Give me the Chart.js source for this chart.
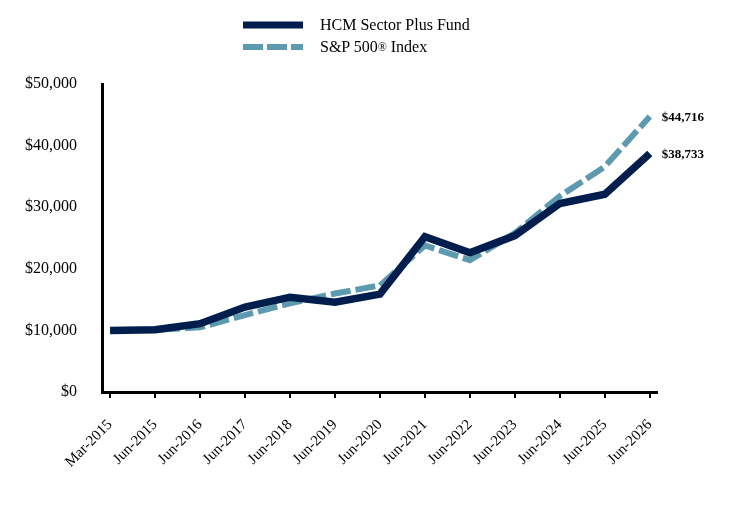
<!DOCTYPE html>
<html>
<head>
<meta charset="utf-8">
<script src="https://cdn.jsdelivr.net/npm/chart.js@4.4.1/dist/chart.umd.min.js"></script>
<style>
  body { margin: 0; background: #fff; font-family: "Liberation Serif", "Times New Roman", serif; }
  #wrap { position: relative; width: 744px; height: 516px; }
  #legend { position: absolute; left: 243px; top: 14px; font-size: 16px; color: #000; }
  #legend .row { height: 22px; display: flex; align-items: center; }
  #legend svg { margin-right: 17px; }
  sup { font-size: 12px; vertical-align: 6px; line-height: 0; }
</style>
</head>
<body>
<div id="wrap">
  <canvas id="myChart" width="744" height="516"></canvas>
  <div id="legend">
    <div class="row"><svg width="60" height="10"><line x1="0" y1="5" x2="60" y2="5" stroke="#001E4D" stroke-width="7"/></svg>HCM Sector Plus Fund</div>
    <div class="row"><svg width="60" height="10"><line x1="0" y1="5" x2="60" y2="5" stroke="#5D9AB0" stroke-width="6" stroke-dasharray="20,4"/></svg>S&amp;P 500<sup>®</sup>&nbsp;Index</div>
  </div>
</div>
<script>
var labels = ['Mar-2015', 'Jun-2015', 'Jun-2016', 'Jun-2017', 'Jun-2018', 'Jun-2019', 'Jun-2020',
              'Jun-2021', 'Jun-2022', 'Jun-2023', 'Jun-2024', 'Jun-2025', 'Jun-2026']
var fund = [10000, 10100, 11100, 13800, 15400, 14600, 15900, 25200, 22600, 25400, 30600, 32100, 38733]
var spx = [10000, 10100, 10500, 12500, 14400, 16000, 17300, 23800, 21400, 25800, 31800, 36600, 44716]
var endLabels = ['$44,716', '$38,733']

function points(arr) {
    return arr.map(function(v, i) { return {x: i, y: v} })
}

var serif = '"Liberation Serif", "Times New Roman", serif'

// подписи в конце линий
var endLabelPlugin = {
    id: 'endLabels',
    afterDatasetsDraw: function(chart) {
        var ctx = chart.ctx
        var xs = chart.scales.x
        var ys = chart.scales.y
        var last = labels.length - 1
        ctx.save()
        ctx.font = 'bold 13px ' + serif
        ctx.fillStyle = '#000'
        ctx.textBaseline = 'middle'
        ctx.fillText(endLabels[0], xs.getPixelForValue(last) + 12, ys.getPixelForValue(spx[last]) + 1)
        ctx.fillText(endLabels[1], xs.getPixelForValue(last) + 12, ys.getPixelForValue(fund[last]) + 1)
        ctx.restore()
    }
}

new Chart('myChart', {
    type: 'line',
    data: {
        datasets: [{
            label: 'HCM Sector Plus Fund',
            data: points(fund),
            borderColor: '#001E4D',
            borderWidth: 7.5,
            pointRadius: 0,
            fill: false,
            tension: 0
        }, {
            label: 'S&P 500® Index',
            data: points(spx),
            borderColor: '#5D9AB0',
            borderWidth: 6,
            borderDash: [20, 5],
            pointRadius: 0,
            fill: false,
            tension: 0
        }]
    },
    options: {
        responsive: false,
        animation: { duration: 0 },
        layout: { padding: { top: 84, right: 87, bottom: 27, left: 8 } },
        plugins: {
            legend: { display: false },
            tooltip: { enabled: false }
        },
        scales: {
            x: {
                type: 'linear',
                min: -0.18,
                max: 12.16,
                afterBuildTicks: function(scale) {
                    scale.ticks = labels.map(function(l, i) { return {value: i} })
                },
                ticks: {
                    autoSkip: false,
                    maxRotation: 45,
                    minRotation: 45,
                    color: '#000',
                    font: { family: serif, size: 15 },
                    padding: 18,
                    callback: function(value) { return labels[value] }
                },
                grid: { drawOnChartArea: false, color: '#000', lineWidth: 2, tickLength: 6 },
                border: { color: '#000', width: 3 }
            },
            y: {
                min: 0,
                max: 50000,
                ticks: {
                    stepSize: 10000,
                    color: '#000',
                    font: { family: serif, size: 16 },
                    padding: 17,
                    callback: function(value) { return '$' + value.toLocaleString('en-US') }
                },
                grid: { display: false },
                border: { color: '#000', width: 3 }
            }
        }
    },
    plugins: [endLabelPlugin]
})
</script>
</body>
</html>
